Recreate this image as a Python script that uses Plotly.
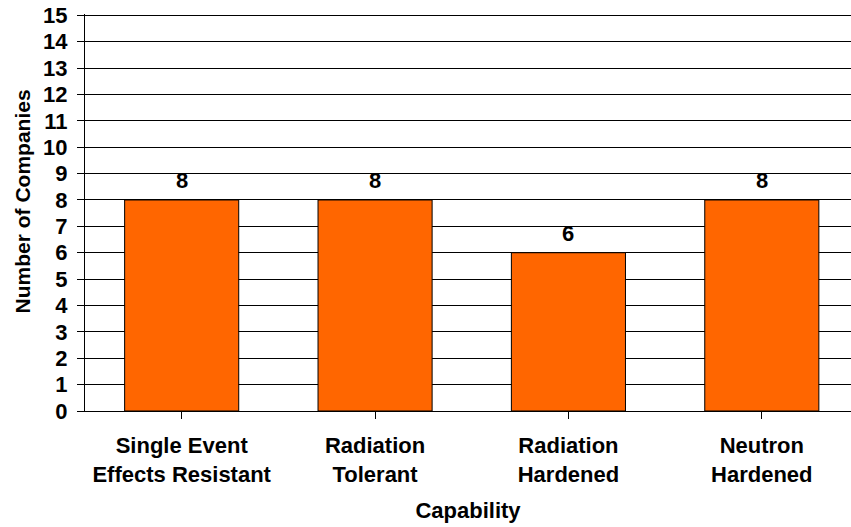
import plotly.graph_objects as go

categories = ["Single Event<br>Effects Resistant", "Radiation<br>Tolerant", "Radiation<br>Hardened", "Neutron<br>Hardened"]
companies = [8, 8, 6, 8]
y_ticks = list(range(0, 16))

FONT = "Liberation Sans, Arial, sans-serif"
FS = 22
W, H = 851, 527
L, B = 84.5, 116
Y_TOP = 15.05
px_per_unit = 395.5 / 15
plot_h = Y_TOP * px_per_unit
T = H - B - plot_h
cat_px = 193.5
plot_w = W - L
x_max = -0.5 + plot_w / cat_px

fig = go.Figure()
fig.add_trace(go.Bar(
    x=list(range(len(categories))),
    y=companies,
    width=0.59,
    marker=dict(color="#FF6600", line=dict(color="black", width=1)),
    hoverinfo="skip",
))
for i, v in enumerate(companies):
    fig.add_annotation(x=i, y=v, text=str(v), showarrow=False, yanchor="bottom",
                       yshift=5, font=dict(family=FONT, size=FS, color="black", weight="bold"))

# y-axis title (placed slightly above the plot centre, as in the original)
fig.add_annotation(xref="paper", yref="paper", x=0, y=(H - B - 202) / plot_h,
                   xanchor="center", yanchor="middle", xshift=22 - L,
                   text="Number of Companies", textangle=-90, showarrow=False,
                   font=dict(family=FONT, size=21, color="black", weight="bold"))

fig.update_layout(
    width=W, height=H,
    margin=dict(l=L, r=0, t=T, b=B, pad=0, autoexpand=False),
    paper_bgcolor="white", plot_bgcolor="white",
    showlegend=False,
    font=dict(family=FONT, size=FS, color="black", weight="bold"),
)
fig.update_xaxes(
    range=[-0.5, x_max],
    tickmode="array", tickvals=list(range(len(categories))), ticktext=categories,
    tickson="boundaries", ticks="outside", ticklen=7, tickcolor="black", tickwidth=1,
    showline=True, linecolor="black", linewidth=1,
    showgrid=False, zeroline=False, automargin=False,
    ticklabelstandoff=8,
    title=dict(text="Capability", standoff=16, font=dict(family=FONT, size=FS, weight="bold")),
    tickfont=dict(family=FONT, size=FS, weight="bold"),
)
fig.update_yaxes(
    range=[0, Y_TOP], tickmode="array", tickvals=y_ticks, ticktext=[str(t) for t in y_ticks],
    ticks="outside", ticklen=7, tickcolor="black", tickwidth=1,
    showline=True, linecolor="black", linewidth=1,
    showgrid=True, gridcolor="black", gridwidth=1, zeroline=False, automargin=False,
    ticklabelstandoff=5,
    tickfont=dict(family=FONT, size=FS, weight="bold"),
)
fig.write_html("out.html", config={"displayModeBar": False},
               post_script="document.body.style.margin='0';")
